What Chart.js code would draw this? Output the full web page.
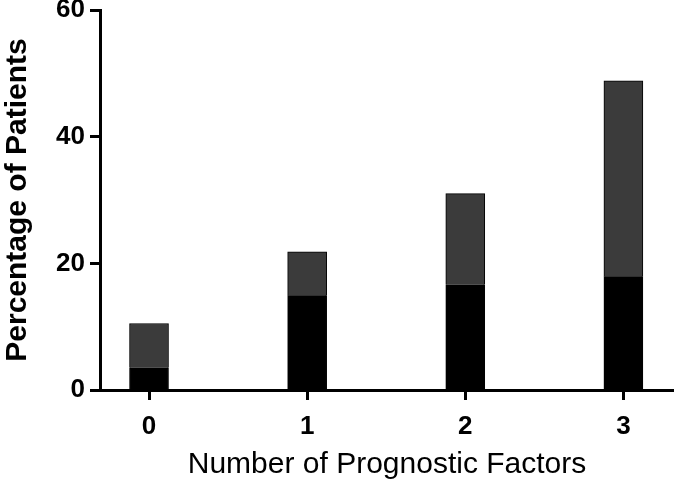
<!DOCTYPE html>
<html>
<head>
<meta charset="utf-8">
<script src="https://cdn.jsdelivr.net/npm/chart.js@4/dist/chart.umd.min.js"></script>
<style>
html,body{margin:0;padding:0;background:#fff;}
#wrap{width:674px;height:481px;position:relative;}
</style>
</head>
<body>
<div id="wrap"><canvas id="c" width="674" height="481"></canvas></div>
<script>
const categories = [0, 1, 2, 3];
const tickLabels = ['0', '1', '2', '3'];
const blackValues = [3.5, 14.9, 16.6, 17.9];
const grayValues = [7.0, 6.9, 14.4, 30.9];
const yTicks = [0, 20, 40, 60];
const xTitle = 'Number of Prognostic Factors';
const yTitle = 'Percentage of Patients';

const FONT = '"Liberation Sans", Arial, sans-serif';

new Chart(document.getElementById('c'), {
  type: 'bar',
  data: {
    datasets: [
      {
        label: 'A',
        data: categories.map((c, i) => ({x: c, y: blackValues[i]})),
        backgroundColor: '#000000',
        borderColor: '#000000',
        borderWidth: 1,
        barThickness: 39
      },
      {
        label: 'B',
        data: categories.map((c, i) => ({x: c, y: grayValues[i]})),
        backgroundColor: '#3b3b3b',
        borderColor: '#000000',
        borderWidth: 1,
        barThickness: 39
      }
    ]
  },
  options: {
    responsive: false,
    animation: false,
    devicePixelRatio: 1,
    layout: {padding: {top: 0, right: 0, left: 0, bottom: 0}},
    plugins: {legend: {display: false}, tooltip: {enabled: false}},
    scales: {
      x: {
        type: 'linear',
        stacked: true,
        offset: false,
        min: -0.31,
        max: 3.32,
        afterBuildTicks: (s) => { s.ticks = categories.map(v => ({value: v})); },
        afterFit: (s) => { s.height = 91; s.paddingLeft = 0; s.paddingRight = 0; },
        border: {display: true, color: '#000', width: 3},
        grid: {offset: false, drawOnChartArea: false, drawTicks: true, tickLength: 10, tickWidth: 3, tickColor: '#000'},
        ticks: {
          color: '#000',
          padding: 11,
          font: {family: FONT, size: 26, weight: 'bold'},
          callback: (v) => tickLabels[categories.indexOf(v)]
        },
        title: {display: true, text: xTitle, color: '#000', padding: {top: 0, bottom: -2},
          font: {family: FONT, size: 30, weight: 'normal'}}
      },
      y: {
        stacked: true,
        min: 0,
        max: 60,
        afterBuildTicks: (s) => { s.ticks = yTicks.map(v => ({value: v})); },
        afterFit: (s) => { s.width = 100; s.paddingTop = 10; s.paddingBottom = 0; },
        border: {display: true, color: '#000', width: 3},
        grid: {drawOnChartArea: false, drawTicks: true, tickLength: 10, tickWidth: 3, tickColor: '#000'},
        ticks: {
          color: '#000',
          padding: 5,
          font: {family: FONT, size: 26, weight: 'bold'}
        },
        title: {display: true, text: yTitle, color: '#000', padding: {top: 0, bottom: 0},
          font: {family: FONT, size: 30, weight: 'bold'}}
      }
    }
  }
});
</script>
</body>
</html>
